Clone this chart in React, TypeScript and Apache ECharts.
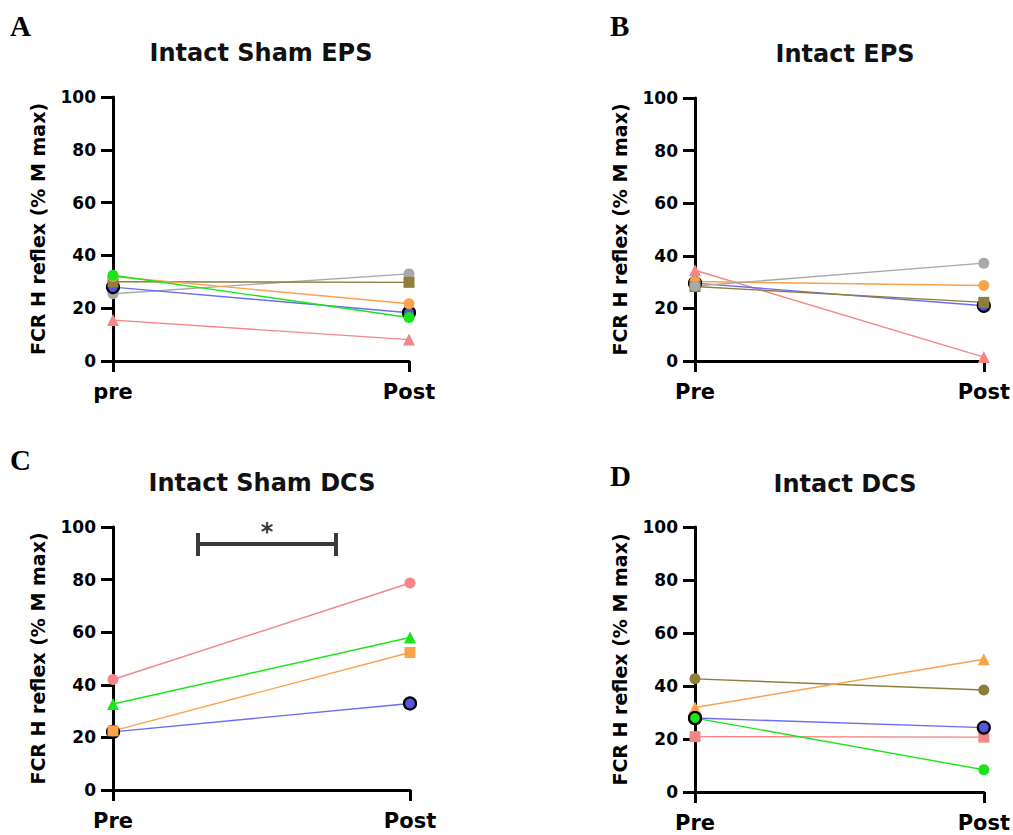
import React, { useEffect, useRef } from "react";
import * as echarts from "echarts";

const categoriesA = ["pre", "Post"];
const categoriesOther = ["Pre", "Post"];

// Panel A: Intact Sham EPS
const aBlue = [28, 18.3];
const aGreen = [32.5, 16.5];
const aOrange = [32, 21.7];
const aOlive = [30, 29.8];
const aGray = [25.5, 33];
const aPink = [15.5, 8.1];

// Panel B: Intact EPS
const bBlue = [29.6, 21];
const bOrange = [30.2, 28.7];
const bGray = [28.5, 37.2];
const bOlive = [28.3, 22.3];
const bPink = [34.5, 1.5];

// Panel C: Intact Sham DCS
const cPink = [42, 78.7];
const cGreen = [32.7, 58];
const cOrange = [22.5, 52.3];
const cBlue = [22.1, 32.9];

// Panel D: Intact DCS
const dOlive = [42.7, 38.5];
const dOrange = [31.9, 50.1];
const dBlue = [27.9, 24.3];
const dGreen = [27.9, 8.4];
const dPink = [20.9, 20.7];

const yTicks = [0, 20, 40, 60, 80, 100];
const titles = ["Intact Sham EPS", "Intact EPS", "Intact Sham DCS", "Intact DCS"];
const letters = ["A", "B", "C", "D"];
const yName = "FCR H reflex (% M max)";

const COL = {
  blue: "#6b6bf5",
  blueFill: "#5656e0",
  green: "#19e619",
  orange: "#fba24a",
  olive: "#8f7d3c",
  gray: "#a9a9a9",
  pink: "#f48686",
};

const FONT = "'DejaVu Sans', Verdana, sans-serif";

export default function App() {
  const ref = useRef<HTMLDivElement>(null);
  useEffect(() => {
    document.body.style.margin = "0";
    const chart = echarts.init(ref.current!, null, { renderer: "svg" });

    const grids = [
      { left: 113, top: 97, width: 296, height: 264 },
      { left: 695, top: 98, width: 298, height: 263 },
      { left: 113, top: 527, width: 297, height: 263 },
      { left: 695, top: 527, width: 298, height: 265 },
    ];

    const xAxes = grids.map((_, i) => ({
      type: "category",
      gridIndex: i,
      data: i === 0 ? categoriesA : categoriesOther,
      boundaryGap: false,
      axisLine: { lineStyle: { color: "#000", width: 3 } },
      axisTick: { show: true, length: 11, lineStyle: { color: "#000", width: 3 } },
      axisLabel: {
        color: "#000",
        fontSize: 21,
        fontWeight: "bold",
        fontFamily: FONT,
        margin: 20,
        interval: 0,
      },
      splitLine: { show: false },
    }));

    const yAxes = grids.map((_, i) => ({
      type: "value",
      gridIndex: i,
      min: yTicks[0],
      max: yTicks[yTicks.length - 1],
      interval: yTicks[1] - yTicks[0],
      name: yName,
      nameLocation: "middle",
      nameRotate: 90,
      nameGap: 66,
      nameTextStyle: { color: "#000", fontSize: 19, fontWeight: "bold", fontFamily: FONT },
      axisLine: { show: true, lineStyle: { color: "#000", width: 3 } },
      axisTick: { show: true, length: 12, lineStyle: { color: "#000", width: 3 } },
      axisLabel: {
        color: "#000",
        fontSize: 17,
        fontWeight: "bold",
        fontFamily: FONT,
        margin: 17,
      },
      splitLine: { show: false },
    }));

    const mk = (
      idx: number,
      data: any[],
      color: string,
      symbol: string,
      opts: { fill?: string; border?: boolean; size?: number } = {}
    ) => ({
      type: "line",
      xAxisIndex: idx,
      yAxisIndex: idx,
      data,
      symbol,
      symbolSize: opts.size ?? (symbol === "triangle" ? 12 : 11),
      lineStyle: { color, width: 1.4 },
      itemStyle: {
        color: opts.fill ?? color,
        borderColor: opts.border ? "#000" : opts.fill ?? color,
        borderWidth: opts.border ? 2.2 : 0,
      },
      showSymbol: true,
      z: 3,
    });

    const series = [
      // A
      mk(0, aPink, COL.pink, "triangle"),
      mk(0, aGray, COL.gray, "circle"),
      mk(0, aBlue, COL.blue, "circle", { fill: COL.blueFill, border: true, size: 12 }),
      mk(0, aOlive, COL.olive, "rect"),
      mk(0, aOrange, COL.orange, "circle"),
      mk(0, aGreen, COL.green, "circle"),
      // B
      mk(1, bPink, COL.pink, "triangle"),
      mk(1, bBlue, COL.blue, "circle", { fill: COL.blueFill, border: true, size: 12 }),
      mk(1, bOrange, COL.orange, "circle"),
      mk(1, bOlive, COL.olive, "rect"),
      mk(1, bGray, COL.gray, "circle"),
      // C
      mk(2, cPink, COL.pink, "circle"),
      mk(2, cGreen, COL.green, "triangle"),
      mk(2, cBlue, COL.blue, "circle", { fill: COL.blueFill, border: true, size: 12 }),
      mk(2, cOrange, COL.orange, "rect"),
      // D
      mk(3, dOlive, COL.olive, "circle"),
      mk(3, dOrange, COL.orange, "triangle"),
      mk(3, dPink, COL.pink, "rect"),
      mk(3, dBlue, COL.blue, "circle", { fill: COL.blueFill, border: true, size: 12 }),
      mk(
        3,
        [
          dGreen[0],
          { value: dGreen[1], itemStyle: { borderWidth: 0, borderColor: COL.green }, symbolSize: 11 },
        ],
        COL.green,
        "circle",
        { border: true, size: 12 }
      ),
    ];

    const titleCenters = [
      [261, 53],
      [845, 54],
      [262, 483],
      [845, 484],
    ];
    const letterPos = [
      [10, 11],
      [610, 11],
      [10, 445],
      [610, 461],
    ];

    const graphic: any[] = [];
    titles.forEach((t, i) => {
      graphic.push({
        type: "text",
        x: titleCenters[i][0],
        y: titleCenters[i][1],
        style: {
          text: t,
          fill: "#111",
          font: `bold 24px ${FONT}`,
          textAlign: "center",
          textVerticalAlign: "middle",
        },
      });
    });
    letters.forEach((l, i) => {
      graphic.push({
        type: "text",
        x: letterPos[i][0],
        y: letterPos[i][1],
        style: {
          text: l,
          fill: "#000",
          font: `bold 29px 'Liberation Serif', 'Times New Roman', serif`,
          textAlign: "left",
          textVerticalAlign: "top",
        },
      });
    });
    // significance bar in panel C
    const barStroke = { stroke: "#3a3a3a", lineWidth: 4 };
    graphic.push(
      { type: "line", shape: { x1: 198, y1: 544, x2: 336, y2: 544 }, style: barStroke },
      { type: "line", shape: { x1: 198, y1: 533, x2: 198, y2: 556 }, style: barStroke },
      { type: "line", shape: { x1: 336, y1: 533, x2: 336, y2: 556 }, style: barStroke },
      {
        type: "text",
        x: 267,
        y: 532,
        style: {
          text: "*",
          fill: "#3a3a3a",
          font: `bold 24px ${FONT}`,
          textAlign: "center",
          textVerticalAlign: "middle",
        },
      }
    );

    chart.setOption({
      animation: false,
      backgroundColor: "#fff",
      grid: grids,
      xAxis: xAxes,
      yAxis: yAxes,
      series,
      graphic,
    });
    return () => chart.dispose();
  }, []);
  return <div ref={ref} style={{ width: 1013, height: 835 }} />;
}
